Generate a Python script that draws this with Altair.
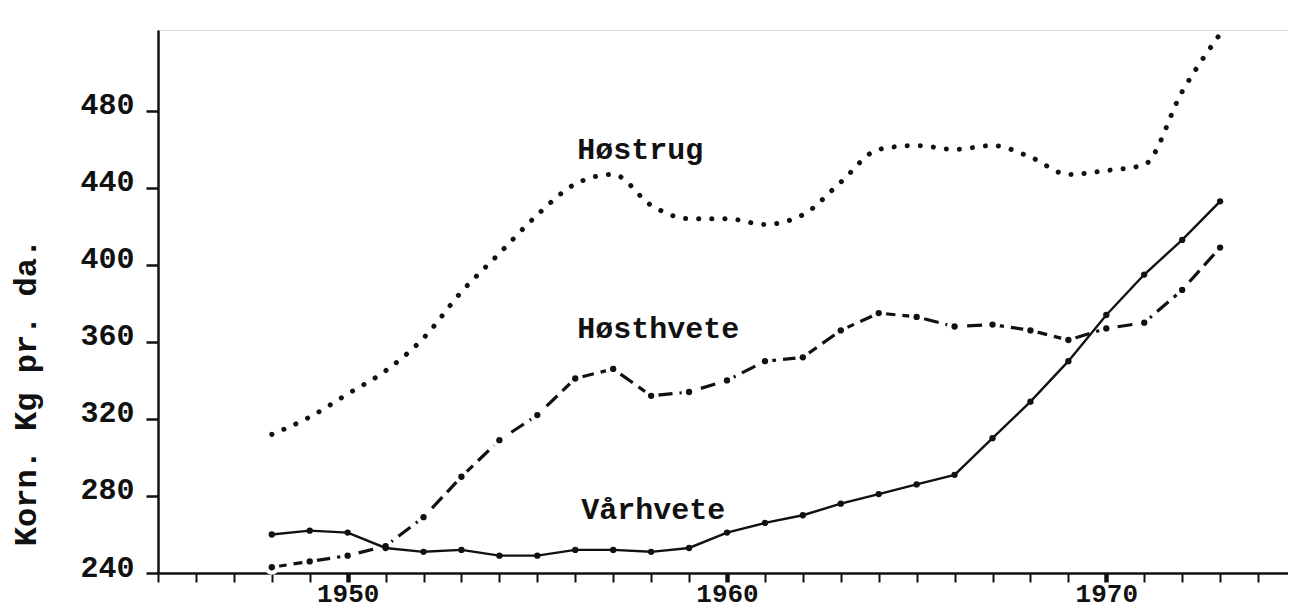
import altair as alt
import pandas as pd

years = list(range(1948, 1974))
varhvete = [260, 262, 261, 253, 251, 252, 249, 249, 252, 252, 251, 253, 261,
            266, 270, 276, 281, 286, 291, 310, 329, 350, 374, 395, 413, 433]
hosthvete = [243, 246, 249, 254, 269, 290, 309, 322, 341, 346, 332, 334, 340,
             350, 352, 366, 375, 373, 368, 369, 366, 361, 367, 370, 387, 409]
hostrug = [312, 321, 333, 345, 362, 386, 406, 426, 442, 447, 431, 424, 424,
           421, 426, 443, 460, 462, 460, 462, 456, 447, 449, 452, 490, 520]

label_text = ["Høstrug", "Høsthvete", "Vårhvete"]
label_year = [1956.05, 1956.05, 1956.16]
label_value = [455, 362, 268]

y_ticks = [240, 280, 320, 360, 400, 440, 480]
x_ticks = list(range(1945, 1975))

df = pd.DataFrame({"year": years, "varhvete": varhvete,
                   "hosthvete": hosthvete, "hostrug": hostrug})
labels = pd.DataFrame({"label": label_text, "lx": label_year, "ly": label_value})

FONT = "Liberation Mono"
INK = "#111111"

xscale = alt.Scale(domain=[1945, 1974.79], nice=False, zero=False)
yscale = alt.Scale(domain=[240, 522], nice=False, zero=False)

xaxis = alt.Axis(
    values=x_ticks, format="d",
    labelExpr="datum.value % 10 === 0 ? datum.label : ''",
    tickSize=9,
    tickWidth={"condition": {"test": "datum.value % 10 === 0", "value": 4.5}, "value": 2},
    tickColor=INK, domainColor=INK, domainWidth=2.5,
    labelFont=FONT, labelFontSize=26, labelFontWeight="bold", labelColor=INK,
    labelBaseline="alphabetic", labelPadding=19,
    labelOverlap=False, labelFlush=False, labelBound=False,
    grid=False, title=None,
)
yaxis = alt.Axis(
    values=y_ticks, format="d",
    tickSize=12, tickWidth=2.5, tickColor=INK,
    domainColor=INK, domainWidth=2.5,
    labelFont=FONT, labelFontSize=30, labelFontWeight="bold", labelColor=INK,
    labelPadding=12, labelBaseline="middle", labelOffset=-6,
    labelOverlap=False, labelFlush=False, labelBound=False,
    grid=False,
    title="Korn. Kg pr. da.", titleFont=FONT, titleFontSize=32,
    titleFontWeight="bold", titleColor=INK,
    titleX=-133, titleY=362, titleAngle=270, titleAlign="center",
    titleBaseline="middle",
)


def X(field):
    return alt.X(field, type="quantitative", scale=xscale, axis=xaxis, title=None)


def Y(field):
    return alt.Y(field, type="quantitative", scale=yscale, axis=yaxis,
                 title="Korn. Kg pr. da.")


base = alt.Chart(df)

rug_line = base.mark_line(color=INK, strokeWidth=5, strokeDash=[0.1, 13],
                          strokeCap="round", interpolate="monotone").encode(
    x=X("year"), y=Y("hostrug"))

hh_line = base.mark_line(color=INK, strokeWidth=3.2, strokeDash=[15, 7]).encode(
    x=X("year"), y=Y("hosthvete"))
hh_halo = base.mark_point(filled=True, color="white", opacity=1, size=230,
                          shape="circle").encode(x=X("year"), y=Y("hosthvete"))
hh_dots = base.mark_point(filled=True, color=INK, opacity=1, size=40,
                          shape="circle").encode(x=X("year"), y=Y("hosthvete"))

vh_line = base.mark_line(color=INK, strokeWidth=2.4).encode(
    x=X("year"), y=Y("varhvete"))
vh_dots = base.mark_point(filled=True, color=INK, opacity=1, size=40,
                          shape="circle").encode(x=X("year"), y=Y("varhvete"))

text = alt.Chart(labels).mark_text(
    align="left", baseline="alphabetic", font=FONT, fontSize=30,
    fontWeight="bold", color=INK).encode(
    x=X("lx"), y=Y("ly"), text="label:N")

chart = alt.layer(
    rug_line, hh_line, hh_halo, hh_dots, vh_line, vh_dots, text
).properties(
    width=1130, height=543,
    padding={"left": 150, "top": 22, "right": 0, "bottom": 35},
    autosize="none",
).configure_view(stroke=None).configure(background="white")

chart.save("out.html", embed_options={"renderer": "svg", "actions": False})
